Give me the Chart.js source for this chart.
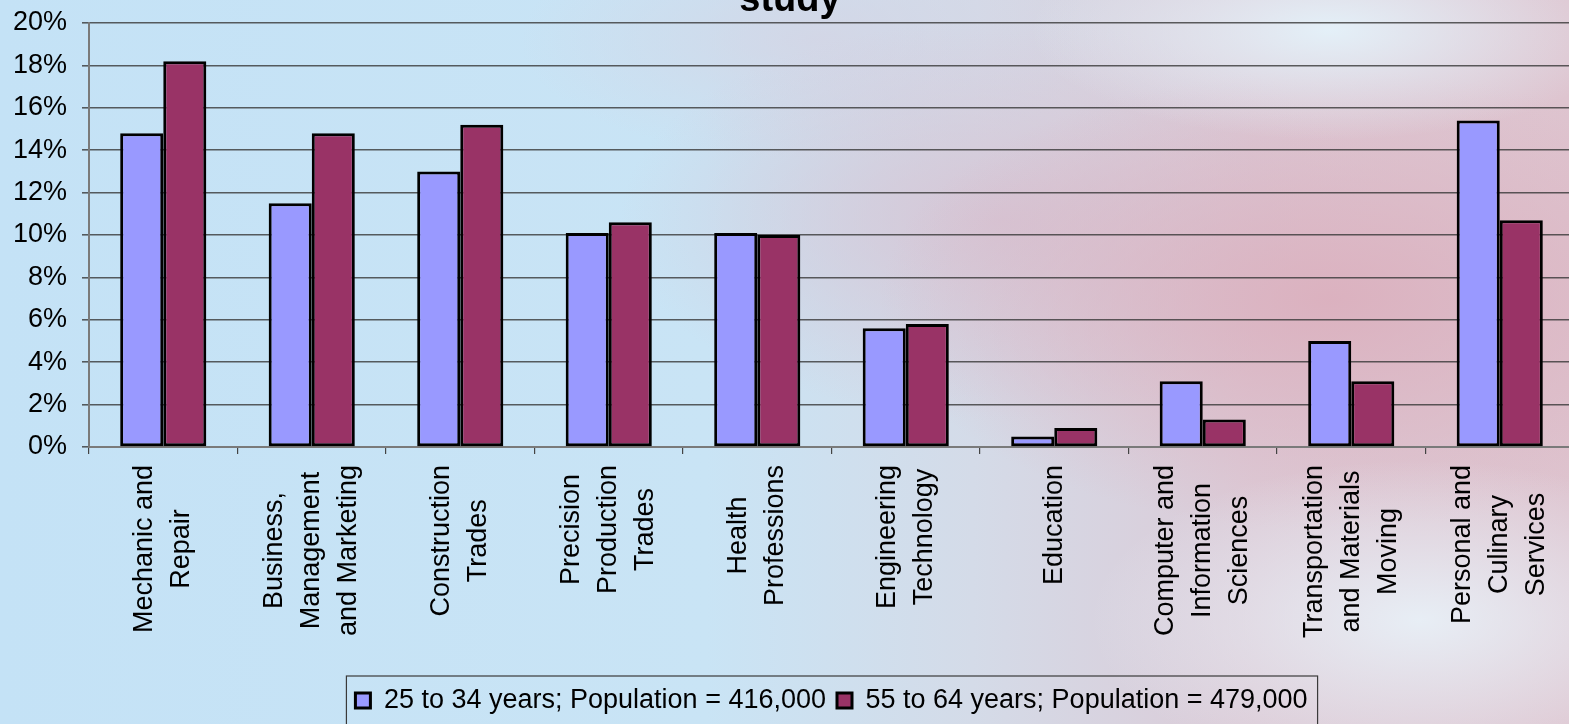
<!DOCTYPE html>
<html>
<head>
<meta charset="utf-8">
<script src="https://cdn.jsdelivr.net/npm/chart.js@4"></script>
<style>
  html, body { margin: 0; padding: 0; overflow: hidden; }
  body {
    width: 1569px; height: 724px;
    background:
      radial-gradient(ellipse 300px 110px at 1330px 30px, rgba(228,242,250,0.95), rgba(228,242,250,0) 100%),
      radial-gradient(ellipse 330px 160px at 1420px 620px, rgba(232,240,247,0.95), rgba(232,240,247,0) 100%),
      radial-gradient(ellipse 450px 230px at 1330px 300px, rgba(219,176,190,0.95), rgba(219,176,190,0) 100%),
      radial-gradient(ellipse 380px 200px at 1000px 220px, rgba(214,194,210,0.85), rgba(214,194,210,0) 100%),
      radial-gradient(ellipse 300px 120px at 820px 40px, rgba(212,212,228,0.8), rgba(212,212,228,0) 100%),
      linear-gradient(90deg, #c4e2f6 0%, #c9e4f5 45%, #d4dbe8 62%, #dccad6 80%, #dec4cf 100%);
  }
  canvas { display: block; }
</style>
</head>
<body>
<canvas id="chart" width="1580" height="724"></canvas>
<script>
// カテゴリ
const categories = [
  ['Mechanic and', 'Repair'],
  ['Business,', 'Management', 'and Marketing'],
  ['Construction', 'Trades'],
  ['Precision', 'Production', 'Trades'],
  ['Health', 'Professions'],
  ['Engineering', 'Technology'],
  ['Education'],
  ['Computer and', 'Information', 'Sciences'],
  ['Transportation', 'and Materials', 'Moving'],
  ['Personal and', 'Culinary', 'Services']
];
// 25 to 34 years
const young = [14.8, 11.5, 13.0, 10.1, 10.1, 5.6, 0.5, 3.1, 5.0, 15.4];
// 55 to 64 years
const old = [18.2, 14.8, 15.2, 10.6, 10.0, 5.8, 0.9, 1.3, 3.1, 10.7];
const seriesNames = ['25 to 34 years; Population = 416,000', '55 to 64 years; Population = 479,000'];
const yTicks = [0, 2, 4, 6, 8, 10, 12, 14, 16, 18, 20];
const titleText = 'study';

const fontFamily = '"Liberation Sans", Arial, sans-serif';

// 縦書きのラベル（中央揃え）とタイトル、凡例の枠
const extras = {
  id: 'extras',
  afterDraw(chart) {
    const ctx = chart.ctx;
    const xScale = chart.scales.x;
    ctx.save();
    ctx.fillStyle = '#000';
    ctx.font = '27px ' + fontFamily;
    ctx.textAlign = 'center';
    ctx.textBaseline = 'middle';
    const lineGap = 37;
    categories.forEach((lines, i) => {
      const cx = xScale.getPixelForValue(i);
      let maxW = 0;
      lines.forEach(l => { maxW = Math.max(maxW, ctx.measureText(l).width); });
      const cy = xScale.top + 18 + maxW / 2;
      lines.forEach((l, j) => {
        const lx = cx + (j - (lines.length - 1) / 2) * lineGap;
        ctx.save();
        ctx.translate(lx, cy);
        ctx.rotate(-Math.PI / 2);
        ctx.fillText(l, 0, 0);
        ctx.restore();
      });
    });

    // タイトル（上が切れている）
    ctx.font = 'bold 38px ' + fontFamily;
    ctx.textBaseline = 'alphabetic';
    ctx.fillText(titleText, 790, 11);

    // 凡例の枠
    const boxes = chart.legend.legendHitBoxes;
    if (boxes && boxes.length) {
      const first = boxes[0];
      const last = boxes[boxes.length - 1];
      const left = first.left - 9;
      const right = last.left + last.width + 10;
      ctx.strokeStyle = '#3a3a3a';
      ctx.lineWidth = 1.2;
      ctx.strokeRect(left, chart.legend.top, right - left, 724 - chart.legend.top + 5);
    }
    ctx.restore();
  }
};

const ctx = document.getElementById('chart');
const myChart = new Chart(ctx, {
  type: 'bar',
  data: {
    labels: categories.map(c => c.join(' ')),
    datasets: [{
      label: seriesNames[0],
      data: young,
      backgroundColor: '#9999ff',
      borderColor: '#000',
      borderWidth: 3,
      borderSkipped: false,
      categoryPercentage: 0.58,
      barPercentage: 1.0
    }, {
      label: seriesNames[1],
      data: old,
      backgroundColor: '#993366',
      borderColor: '#000',
      borderWidth: 3,
      borderSkipped: false,
      categoryPercentage: 0.58,
      barPercentage: 1.0
    }]
  },
  options: {
    responsive: false,
    animation: false,
    devicePixelRatio: 1,
    layout: {
      padding: { top: 23, right: 6, left: 0, bottom: 0 }
    },
    scales: {
      x: {
        offset: true,
        grid: {
          offset: true,
          drawOnChartArea: false,
          drawTicks: true,
          tickLength: 7,
          color: '#444',
          lineWidth: 1.2
        },
        border: { color: '#7a7a7a', width: 2 },
        ticks: { display: false },
        afterFit: function(scale) {
          scale.height = 229;
          scale.paddingLeft = 0;
          scale.paddingRight = 0;
        }
      },
      y: {
        min: 0,
        max: 20,
        afterBuildTicks: function(scale) {
          scale.ticks = yTicks.map(v => ({ value: v }));
        },
        grid: {
          color: 'rgba(55,55,55,0.8)',
          lineWidth: 1.6,
          tickLength: 7
        },
        border: { color: '#7a7a7a', width: 2 },
        ticks: {
          color: '#000',
          padding: 15,
          font: { size: 27, family: fontFamily },
          callback: function(value) {
            return value + '%';
          }
        },
        afterFit: function(scale) {
          scale.width = 89;
          scale.paddingTop = 0;
          scale.paddingBottom = 0;
        }
      }
    },
    plugins: {
      legend: {
        position: 'bottom',
        fullSize: false,
        labels: {
          color: '#000',
          boxWidth: 15,
          boxHeight: 15,
          padding: 11,
          font: { size: 27, family: fontFamily }
        }
      },
      tooltip: { enabled: false },
      title: { display: false }
    }
  },
  plugins: [extras]
});
</script>
</body>
</html>
